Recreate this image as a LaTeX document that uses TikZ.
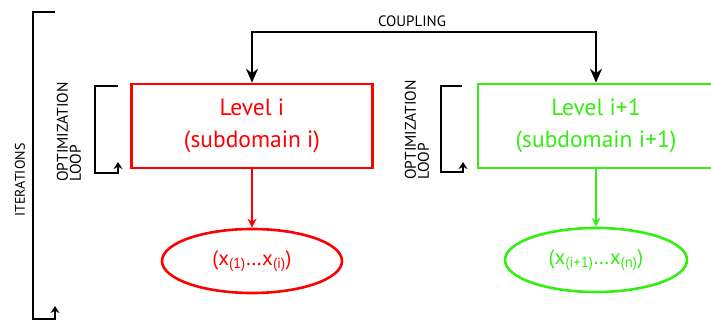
\documentclass[tikz,border=0pt]{standalone}
\usepackage{fontspec}
\setmainfont{PT Sans}
\usetikzlibrary{arrows.meta, shapes.geometric, positioning, calc}
\definecolor{levelred}{HTML}{FF0000}
\definecolor{levelgreen}{HTML}{33EE11}

\begin{document}
\begin{tikzpicture}[x=1pt, y=-1pt,
  level/.style={rectangle, draw, line width=2.6pt, minimum height=84pt,
                align=center, font=\fontsize{23.5}{32}\selectfont},
  vars/.style={ellipse, draw, line width=2.6pt, minimum width=180pt,
               minimum height=64pt, inner sep=0pt,
               font=\fontsize{21}{24}\selectfont},
  flow/.style={-{Stealth[length=9pt,width=9pt]}, line width=2pt},
  couple/.style={{Stealth[length=14pt,width=12pt]}-{Stealth[length=14pt,width=12pt]},
                 line width=2pt},
  loopback/.style={-{Stealth[length=7pt,width=9pt]}, line width=1.8pt},
  tag/.style={font=\fontsize{15.5}{13}\selectfont, align=left, rotate=90}
]
\clip (0,0) rectangle (711,320);

% Levels
\node[level, draw=levelred, text=levelred, minimum width=241pt] (levelA) at (252,126)
      {Level i\\(subdomain i)};
\node[level, draw=levelgreen, text=levelgreen, minimum width=236pt] (levelB) at (596,126)
      {Level i+1\\(subdomain i+1)};

% Design variables of each level
\node[vars, draw=levelred, text=levelred] (varsA) at (252,261)
      {(x\textsubscript{(1)}\ldots x\textsubscript{(i)})};
\node[vars, draw=levelgreen, text=levelgreen, minimum width=182pt] (varsB) at (596,260)
      {(x\textsubscript{(i+1)}\ldots x\textsubscript{(n)})};

\draw[flow, levelred] (levelA.south) -- (levelA.south |- varsA.north);
\draw[flow, levelgreen] (levelB.south) -- (levelB.south |- varsB.north);

% Coupling between the levels
\coordinate (coupleMid) at (420,32);
\draw[couple] (levelA.north) |- (coupleMid) -| (levelB.north);
\node[font=\fontsize{15}{15}\selectfont] (couplingLabel) at (412,21) {COUPLING};

% Optimization loops
\coordinate (loopAin) at (118,86);
\coordinate (loopAout) at (118,162);
\draw[loopback] (loopAin) -| (95,173) -| (loopAout);
\node[tag] (optA) at (69,132) {OPTIMIZATION\\LOOP};

\coordinate (loopBin) at (462,86);
\coordinate (loopBout) at (463,162);
\draw[loopback] (loopBin) -| (441,172) -| (loopBout);
\node[tag] (optB) at (417,130) {OPTIMIZATION\\LOOP};

% Outer iterations
\coordinate (iterIn) at (55,12);
\coordinate (iterOut) at (55,306);
\draw[loopback, line width=2pt] (iterIn) -| (33,319) -| (iterOut);
\node[font=\fontsize{14}{14}\selectfont, rotate=90] (iterLabel) at (20,180) {ITERATIONS};

\end{tikzpicture}
\end{document}
